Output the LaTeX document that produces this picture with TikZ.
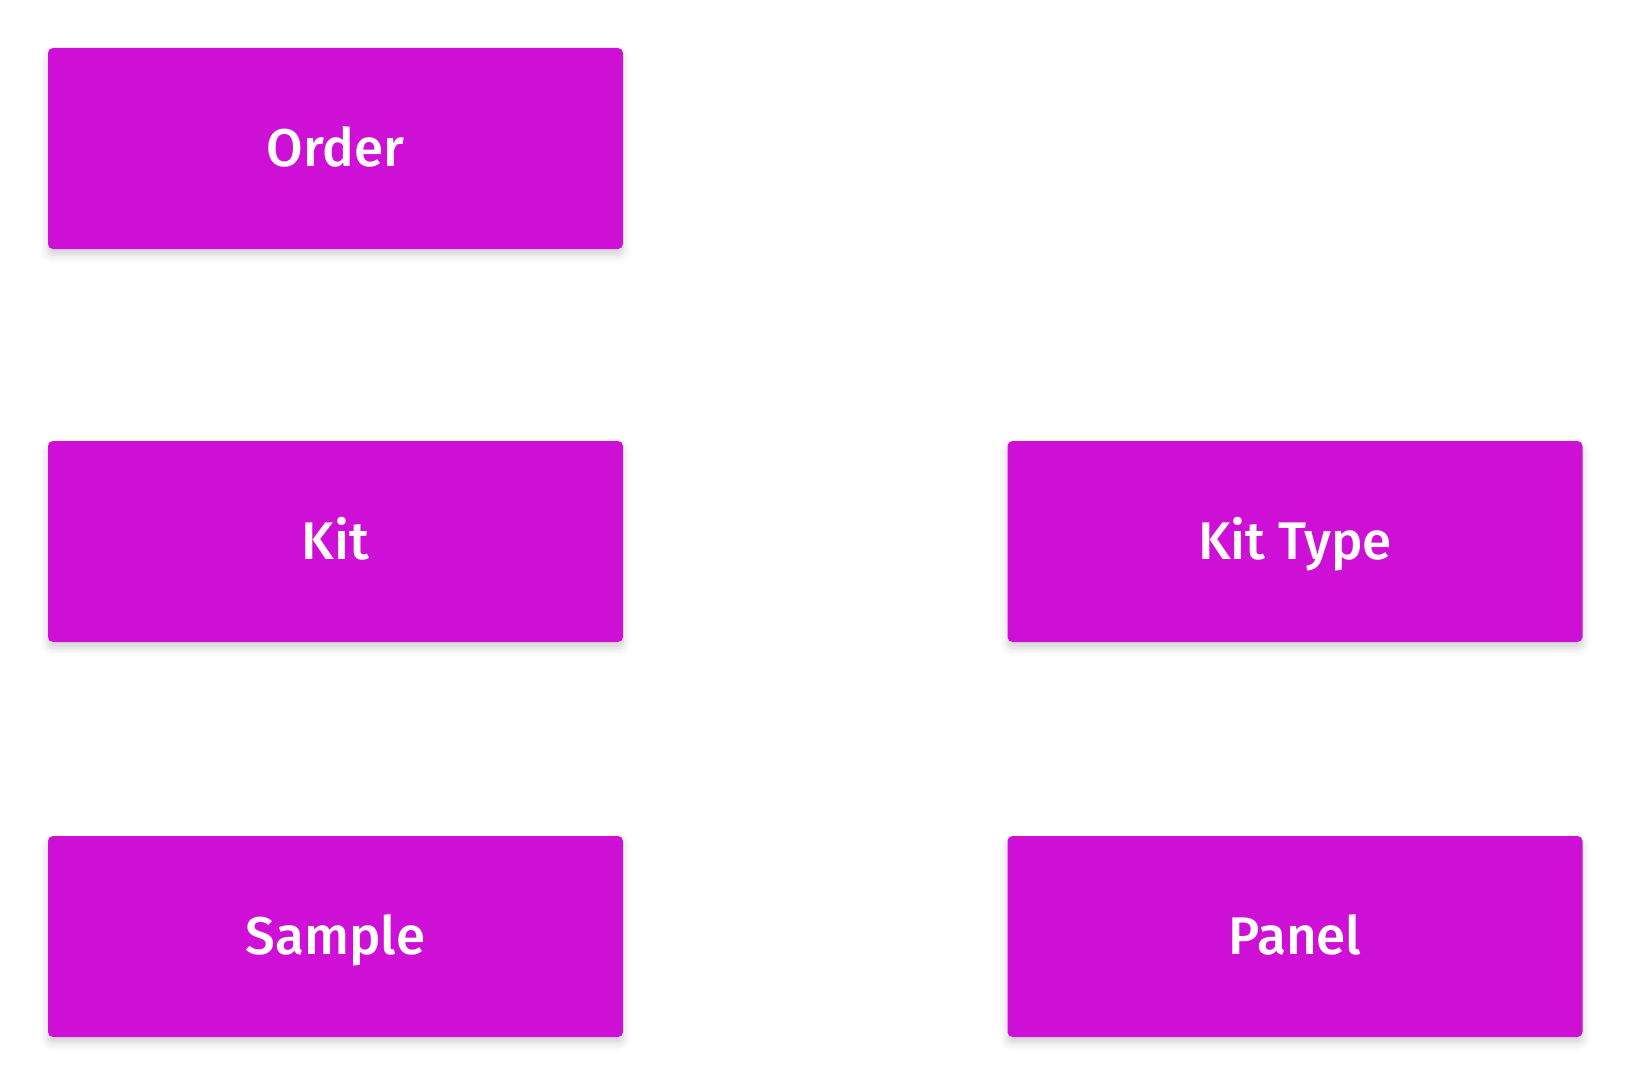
\documentclass[tikz,border=0pt]{standalone}
\usepackage{fontspec}
\setmainfont{Fira Sans Medium}
\usetikzlibrary{positioning,shadows.blur}

\definecolor{entmagenta}{HTML}{CE0FD6}

\begin{document}
\begin{tikzpicture}[
  x=1pt, y=-1pt,
  font=\fontsize{53}{64}\selectfont,
  entity/.style={fill=entmagenta, text=white, rounded corners=5pt,
                 minimum width=575pt, minimum height=201pt, inner sep=0pt,
                 text height=36.5pt, text depth=0pt,
                 blur shadow={shadow xshift=0pt, shadow yshift=-6pt,
                              shadow blur radius=8pt, shadow opacity=18}},
]
  \useasboundingbox (0,0) rectangle (1632,1086);

  \node[entity] (order)   at (335.5, 148.5)  {Order};
  \node[entity] (kit)     at (335.5, 541.5)  {Kit};
  \node[entity] (sample)  at (335.5, 936.5)  {Sample};
  \node[entity] (kittype) at (1295, 541.5)   {Kit Type};
  \node[entity] (panel)   at (1295, 936.5)   {Panel};
\end{tikzpicture}
\end{document}
